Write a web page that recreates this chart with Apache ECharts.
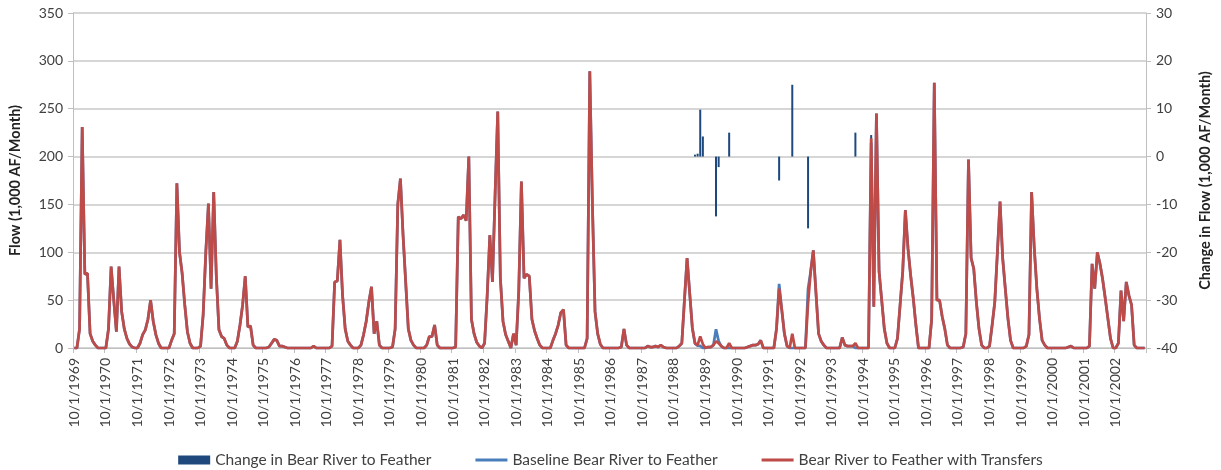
<!DOCTYPE html>
<html><head><meta charset="utf-8">
<script src="https://cdn.jsdelivr.net/npm/echarts@6/dist/echarts.min.js"></script>
<style>html,body{margin:0;padding:0;background:#fff}#c{width:1221px;height:470px}</style>
</head><body><div id="c"></div>
<script>
// Monthly categories: 10/1/1969 .. 9/1/2003
const startYear = 1969, startMonth = 10, monthCount = 408;
const categories = [];
for (let i = 0; i < monthCount; i++) {
  const t = startYear * 12 + (startMonth - 1) + i;
  categories.push(((t % 12) + 1) + '/1/' + Math.floor(t / 12));
}

// Bear River to Feather with Transfers (1,000 AF/month), one row per water year (Oct-Sep)
const withTransfers = [
  0,0,20,231,77,78,15,7,3,0,0,0,
  0,20,85,50,17,85,38,20,10,4,1,0,
  0,5,14,19,30,50,28,14,5,0,0,0,
  0,8,15,172,100,78,45,17,5,0,0,0,
  2,35,100,151,62,163,75,19,12,10,3,0,
  0,0,7,24,45,75,22,23,3,0,0,0,
  0,0,1,5,9,8,2,2,1,0,0,0,
  0,0,0,0,0,0,0,2,0,0,0,0,
  0,0,2,69,70,113,55,20,7,3,0,0,
  0,3,14,28,48,64,15,28,3,0,0,0,
  0,1,20,150,177,118,69,20,8,3,0,0,
  0,0,3,12,12,24,3,0,0,0,0,0,
  0,1,137,135,139,133,200,30,15,6,2,0,
  5,55,118,69,160,247,73,28,14,7,0,15,
  3,60,174,73,77,75,30,18,10,3,0,0,
  0,0,8,15,24,37,40,3,0,0,0,0,
  0,0,0,10,289,150,38,15,4,0,0,0,
  0,0,0,0,1,20,3,0,0,0,0,0,
  0,0,2,1,1,2,1,3,1,0,0,0,
  0,0,2,5,50,94,57,21,5,3,12,4,
  0,1,1,3,7,5,2,0,0,5,0,0,
  0,0,0,0,1,2,3,3,4,8,0,0,
  0,0,0,20,62,40,15,2,0,15,0,0,
  0,0,0,47,80,102,58,15,7,3,0,0,
  0,0,0,0,11,3,2,2,2,5,0,0,
  0,0,0,219,43,245,80,50,20,5,0,0,
  0,10,45,80,144,104,76,52,24,0,0,0,
  0,0,30,277,50,50,33,20,3,0,0,0,
  0,0,1,15,197,94,83,48,20,3,0,0,
  2,24,48,100,153,94,62,31,8,0,0,0,
  0,0,2,14,163,105,62,31,8,3,0,0,
  0,0,0,0,0,0,1,2,0,0,0,0,
  0,0,2,88,62,100,88,72,52,31,10,0,
  0,5,60,28,69,55,45,3,0,0,0,0
];

// Baseline Bear River to Feather (1,000 AF/month)
const baseline = [
  0,0,20,231,77,78,15,7,3,0,0,0,
  0,20,85,50,17,85,38,20,10,4,1,0,
  0,5,14,19,30,50,28,14,5,0,0,0,
  0,8,15,172,100,78,45,17,5,0,0,0,
  2,35,100,151,62,163,75,19,12,10,3,0,
  0,0,7,24,45,75,22,23,3,0,0,0,
  0,0,1,5,9,8,2,2,1,0,0,0,
  0,0,0,0,0,0,0,2,0,0,0,0,
  0,0,2,69,70,113,55,20,7,3,0,0,
  0,3,14,28,48,64,15,28,3,0,0,0,
  0,1,20,150,177,118,69,20,8,3,0,0,
  0,0,3,12,12,24,3,0,0,0,0,0,
  0,1,137,135,139,133,200,30,15,6,2,0,
  5,55,118,69,160,247,73,28,14,7,0,15,
  3,60,174,73,77,75,30,18,10,3,0,0,
  0,0,8,15,24,37,40,3,0,0,0,0,
  0,0,0,10,289,150,38,15,4,0,0,0,
  0,0,0,0,1,20,3,0,0,0,0,0,
  0,0,2,1,1,2,1,3,1,0,0,0,
  0,0,2,5,50,94,57,21,4.6,2.4,2.2,0,
  0,1,1,3,19.5,7.2,2,0,0,0,0,0,
  0,0,0,0,1,2,3,3,4,8,0,0,
  0,0,0,20,67,40,15,2,0,0,0,0,
  0,0,0,62,80,102,58,15,7,3,0,0,
  0,0,0,0,11,3,2,2,2,0,0,0,
  0,0,0,214.5,43,245,80,50,20,5,0,0,
  0,10,45,80,144,104,76,52,24,0,0,0,
  0,0,30,277,50,50,33,20,3,0,0,0,
  0,0,1,15,197,94,83,48,20,3,0,0,
  2,24,48,100,153,94,62,31,8,0,0,0,
  0,0,2,14,163,105,62,31,8,3,0,0,
  0,0,0,0,0,0,1,2,0,0,0,0,
  0,0,2,88,62,100,88,72,52,31,10,0,
  0,5,60,28,69,55,45,3,0,0,0,0
];

// Change in Bear River to Feather (1,000 AF/month), right axis
const changeDates  = ['6/1/1989','7/1/1989','8/1/1989','9/1/1989','2/1/1990','3/1/1990','7/1/1990','2/1/1992','7/1/1992','1/1/1993','7/1/1994','1/1/1995'];
const changeValues = [0.4, 0.6, 9.8, 4.2, -12.5, -2.2, 5, -5, 15, -15, 5, 4.5];

const changeSeries = categories.map(c => {
  const k = changeDates.indexOf(c);
  return k >= 0 ? changeValues[k] : null;
});

const FONT = 'Lato';
const TXT = '#404040';
const GRID = '#c8c8c8';
const LINE_ICON = 'path://M0,0 L32,0 L32,3 L0,3 Z';

const chart = echarts.init(document.getElementById('c'), null, {renderer: 'canvas'});
chart.setOption({
  animation: false,
  backgroundColor: '#ffffff',
  textStyle: {fontFamily: FONT},
  grid: {left: 72, right: 73, top: 13, bottom: 122, containLabel: false},
  legend: {
    top: 447, left: 'center', itemWidth: 32, itemHeight: 9, itemGap: 44,
    symbolKeepAspect: true,
    textStyle: {fontFamily: FONT, fontSize: 15.5, color: TXT},
    data: [
      {name: 'Change in Bear River to Feather', icon: 'rect'},
      {name: 'Baseline Bear River to Feather', icon: LINE_ICON},
      {name: 'Bear River to Feather with Transfers', icon: LINE_ICON}
    ]
  },
  xAxis: {
    type: 'category', data: categories, boundaryGap: true,
    axisLine: {show: true, lineStyle: {color: '#bfbfbf', width: 1}},
    axisTick: {show: true, interval: 11, length: 5, lineStyle: {color: '#bfbfbf'}},
    axisLabel: {interval: 11, rotate: 90, margin: 10, fontFamily: FONT, fontSize: 14, color: TXT}
  },
  yAxis: [
    {
      type: 'value', min: 0, max: 350, interval: 50, position: 'left',
      name: 'Flow (1,000 AF/Month)', nameLocation: 'middle', nameGap: 50,
      nameTextStyle: {fontFamily: FONT, fontSize: 14.5, fontWeight: 'bold', color: '#222'},
      axisLine: {show: true, lineStyle: {color: '#bfbfbf'}},
      axisTick: {show: true, length: 5, lineStyle: {color: '#bfbfbf'}},
      axisLabel: {margin: 10, fontFamily: FONT, fontSize: 14, color: TXT},
      splitLine: {show: true, lineStyle: {color: GRID, width: 1.5}}
    },
    {
      type: 'value', min: -40, max: 30, interval: 10, position: 'right',
      name: 'Change in Flow (1,000 AF/Month)', nameLocation: 'middle', nameGap: 52, nameRotate: 90,
      nameTextStyle: {fontFamily: FONT, fontSize: 14.5, fontWeight: 'bold', color: '#222'},
      axisLine: {show: true, lineStyle: {color: '#bfbfbf'}},
      axisTick: {show: true, length: 5, lineStyle: {color: '#bfbfbf'}},
      axisLabel: {margin: 10, fontFamily: FONT, fontSize: 14, color: TXT},
      splitLine: {show: false}
    }
  ],
  series: [
    {
      name: 'Change in Bear River to Feather', type: 'bar', yAxisIndex: 1,
      data: changeSeries, barWidth: 2, itemStyle: {color: '#1F497D'}
    },
    {
      name: 'Baseline Bear River to Feather', type: 'line', yAxisIndex: 0,
      data: baseline, symbol: 'none', showSymbol: false,
      lineStyle: {color: '#4A7EBB', width: 2.75}, itemStyle: {color: '#4A7EBB'}
    },
    {
      name: 'Bear River to Feather with Transfers', type: 'line', yAxisIndex: 0,
      data: withTransfers, symbol: 'none', showSymbol: false,
      lineStyle: {color: '#BE4B48', width: 2.75}, itemStyle: {color: '#BE4B48'}
    }
  ]
});
</script>
</body></html>
